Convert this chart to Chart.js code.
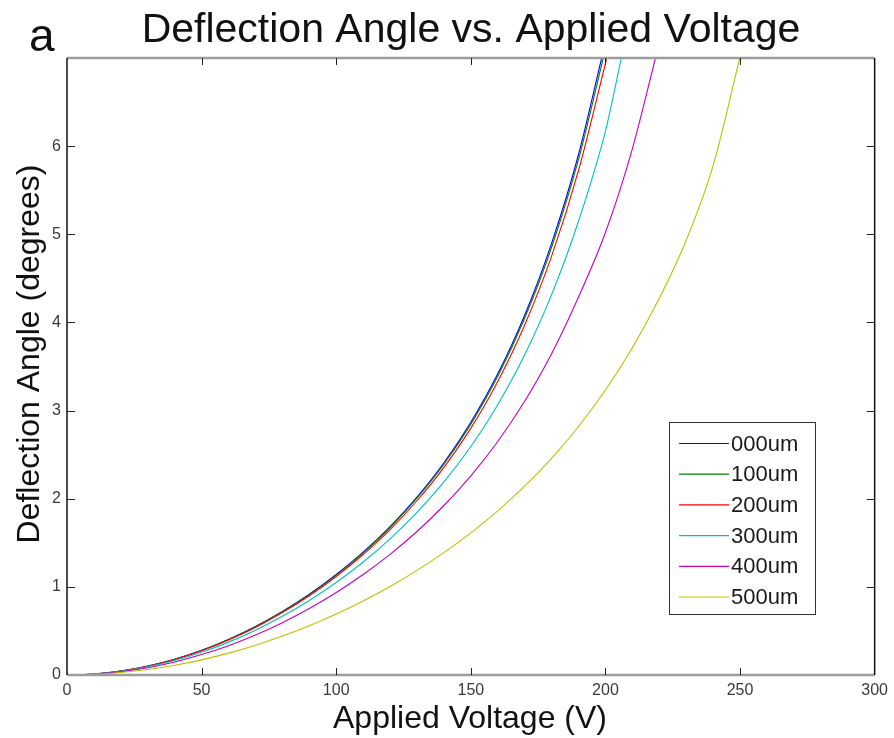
<!DOCTYPE html>
<html><head><meta charset="utf-8">
<script src="https://cdn.jsdelivr.net/npm/chart.js@4/dist/chart.umd.min.js"></script>
<style>html,body{margin:0;padding:0;background:#fff;}#wrap{width:894px;height:738px;}</style>
</head><body><div id="wrap"><canvas id="c" width="894" height="738"></canvas></div>
<script>
const chartTitle = 'Deflection Angle vs. Applied Voltage';
const xTitle = 'Applied Voltage (V)';
const yTitle = 'Deflection Angle (degrees)';
const panelLabel = 'a';
const seriesLabels = ['000um','100um','200um','300um','400um','500um'];
const seriesColors = ['#0000ff','#008000','#ff0000','#00bfbf','#bf00bf','#bfbf00'];
const xTicks = [0,50,100,150,200,250,300];
const yTicks = [0,1,2,3,4,5,6,7];

const voltage = [5,10,20,30,40,50,60,70,80,90,100,110,120,130,140,150,160,170,180,190,200,210,220,230,240];
const angle000 = [0.003,0.011,0.045,0.101,0.179,0.280,0.404,0.550,0.721,0.916,1.140,1.394,1.684,2.019,2.408,2.868,3.417,4.082,4.897,5.905,null,null,null,null,null];
const angle100 = [0.003,0.011,0.045,0.100,0.178,0.278,0.402,0.547,0.717,0.911,1.133,1.386,1.673,2.006,2.391,2.846,3.388,4.048,4.853,5.850,null,null,null,null,null];
const angle200 = [0.003,0.011,0.044,0.099,0.176,0.275,0.397,0.540,0.708,0.899,1.118,1.367,1.650,1.977,2.356,2.801,3.331,3.971,4.752,5.725,null,null,null,null,null];
const angle300 = [0.002,0.010,0.042,0.093,0.165,0.259,0.373,0.509,0.666,0.846,1.050,1.282,1.545,1.845,2.190,2.593,3.067,3.632,4.315,5.148,6.171,null,null,null,null];
const angle400 = [0.002,0.009,0.037,0.083,0.148,0.232,0.333,0.454,0.594,0.754,0.936,1.140,1.369,1.628,1.923,2.259,2.649,3.105,3.644,4.288,5.020,5.970,null,null,null];
const angle500 = [0.001,0.007,0.028,0.062,0.110,0.172,0.248,0.338,0.442,0.560,0.692,0.840,1.005,1.187,1.388,1.612,1.862,2.142,2.458,2.819,3.233,3.713,4.274,4.933,5.780];
// voltage at which each curve leaves the top of the plot (angle = 7)
const exitVoltage = [198.6,199.2,200.5,205.9,218.6,249.9];
const exitAngle = 7;

const allAngles = [angle000,angle100,angle200,angle300,angle400,angle500];
const FONT = '"Liberation Sans", Arial, Helvetica, sans-serif';

const datasets = allAngles.map((arr,i)=>{
  const pts = [];
  voltage.forEach((v,k)=>{ if(arr[k]!==null) pts.push({x:v,y:arr[k]}); });
  pts.push({x:exitVoltage[i], y:exitAngle});
  return {
    label: seriesLabels[i], data: pts, showLine:true,
    borderColor: seriesColors[i], backgroundColor: seriesColors[i],
    borderWidth: 1.1, pointRadius: 0, fill:false,
    cubicInterpolationMode:'monotone', order: 6 - i
  };
});

const decor = {
  id:'decor',
  afterDraw(chart){
    const ctx = chart.ctx, a = chart.chartArea;
    const xs = chart.scales.x, ys = chart.scales.y;
    ctx.save();
    ctx.strokeStyle = '#9c9c9c'; ctx.lineWidth = 2.5;
    ctx.beginPath(); ctx.moveTo(a.left, a.top); ctx.lineTo(a.right, a.top);
    ctx.moveTo(a.left, a.bottom); ctx.lineTo(a.right, a.bottom); ctx.stroke();
    ctx.strokeStyle = '#111'; ctx.lineWidth = 1.5;
    ctx.beginPath(); ctx.moveTo(a.left, a.top); ctx.lineTo(a.left, a.bottom);
    ctx.moveTo(a.right, a.top); ctx.lineTo(a.right, a.bottom); ctx.stroke();
    ctx.strokeStyle = '#222'; ctx.lineWidth = 1;
    ctx.beginPath();
    xTicks.forEach(v=>{ if(v===0||v===300) return; const p = Math.round(xs.getPixelForValue(v))+0.5;
      ctx.moveTo(p, a.bottom); ctx.lineTo(p, a.bottom-7);
      ctx.moveTo(p, a.top); ctx.lineTo(p, a.top+7); });
    yTicks.forEach(v=>{ if(v===0||v===7) return; const p = Math.round(ys.getPixelForValue(v))+0.5;
      ctx.moveTo(a.left, p); ctx.lineTo(a.left+8, p);
      ctx.moveTo(a.right, p); ctx.lineTo(a.right-8, p); });
    ctx.stroke();
    const lx = 669.5, ly = 422.5, lw = 146, lh = 192;
    ctx.fillStyle = '#fff'; ctx.fillRect(lx, ly, lw, lh);
    ctx.strokeStyle = '#333'; ctx.lineWidth = 1; ctx.strokeRect(lx, ly, lw, lh);
    ctx.font = '22px ' + FONT; ctx.textBaseline = 'middle'; ctx.textAlign = 'left';
    chart.data.datasets.forEach((ds,i)=>{
      const y = 443.5 + i*30.7;
      ctx.strokeStyle = ds.borderColor; ctx.lineWidth = 1.2;
      ctx.beginPath(); ctx.moveTo(679, y); ctx.lineTo(729, y); ctx.stroke();
      ctx.fillStyle = '#1a1a1a'; ctx.fillText(ds.label, 731, y+1);
    });
    ctx.fillStyle = '#111';
    ctx.textAlign = 'center'; ctx.textBaseline = 'alphabetic';
    ctx.font = '41px ' + FONT; ctx.fillText(chartTitle, 471, 42);
    ctx.font = '32px ' + FONT; ctx.fillText(xTitle, 470, 728);
    ctx.save(); ctx.translate(39, 354); ctx.rotate(-Math.PI/2);
    ctx.fillText(yTitle, 0, 0); ctx.restore();
    ctx.textAlign = 'left'; ctx.font = '46px ' + FONT; ctx.fillText(panelLabel, 29, 51);
    ctx.restore();
  }
};

new Chart(document.getElementById('c'), {
  type:'scatter',
  data:{datasets},
  options:{
    responsive:false, animation:false, devicePixelRatio:1,
    layout:{padding:{top:58,right:18,left:0,bottom:0}},
    plugins:{legend:{display:false}, tooltip:{enabled:false}, title:{display:false}},
    scales:{
      x:{type:'linear', min:0, max:300,
        afterBuildTicks:s=>{ s.ticks = xTicks.map(v=>({value:v})); },
        grid:{display:false, drawTicks:false}, border:{display:false},
        ticks:{font:{family:FONT,size:16}, color:'#3a3a3a', padding:6, maxRotation:0, autoSkip:false},
        afterFit:s=>{ s.height = 63; }},
      y:{type:'linear', min:0, max:7,
        afterBuildTicks:s=>{ s.ticks = yTicks.map(v=>({value:v})); },
        grid:{display:false, drawTicks:false}, border:{display:false},
        ticks:{font:{family:FONT,size:16}, color:'#3a3a3a', padding:6, autoSkip:false,
          callback:v=> v===7 ? '' : String(v)},
        afterFit:s=>{ s.width = 67; }}
    }
  },
  plugins:[decor]
});
</script></body></html>
